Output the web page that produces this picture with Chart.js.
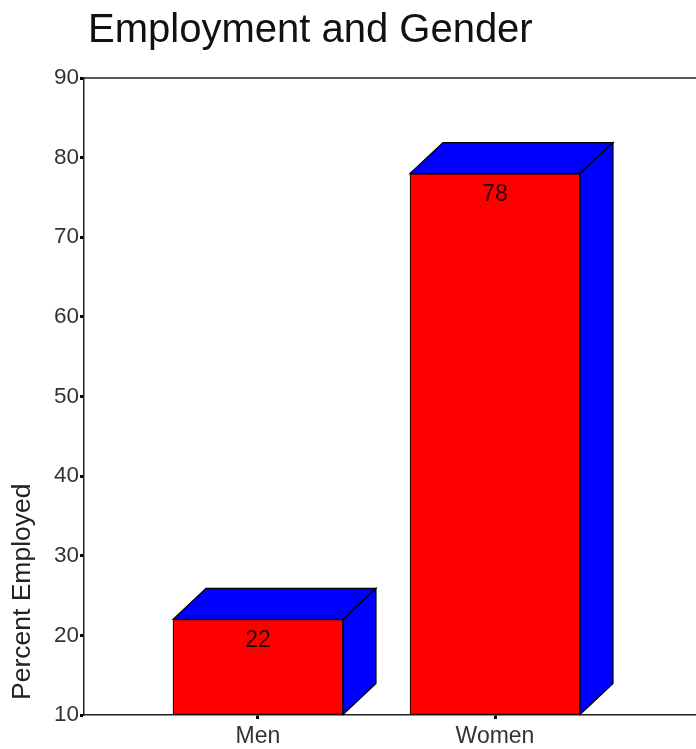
<!DOCTYPE html>
<html>
<head>
    <title>Employment and Gender</title>
    <script src="https://cdn.jsdelivr.net/npm/chart.js"></script>
    <style>
        html, body { margin: 0; padding: 0; background: #fff; overflow: hidden; }
        #chart-container { width: 696px; height: 749px; position: relative; }
    </style>
</head>
<body>
    <div id="chart-container">
        <canvas id="bar-chart"></canvas>
    </div>

    <script>
        // datos
        var titulo = 'Employment and Gender';
        var categorias = ['Men', 'Women'];
        var porcentajes = [22, 78];
        var ejeY = { min: 10, max: 90, paso: 10 };
        var tituloY = 'Percent Employed';

        var rojo = '#ff0000';
        var azul = '#0000ff';
        var prof = { dx: 33, dy: -31 };
        var fuente = '"Liberation Sans", Arial, sans-serif';

        var puntos = porcentajes.map(function (v, i) { return { x: i, y: v }; });

        // caras 3D, etiquetas y titulos
        var cubo = {
            id: 'cubo',
            beforeDatasetsDraw: function (chart) {
                var ctx = chart.ctx, a = chart.chartArea;
                ctx.save();
                ctx.strokeStyle = '#222';
                ctx.lineWidth = 1.5;
                ctx.beginPath();
                ctx.moveTo(a.left, a.top);
                ctx.lineTo(a.right, a.top);
                ctx.stroke();
                ctx.restore();
            },
            afterDatasetsDraw: function (chart) {
                var ctx = chart.ctx, a = chart.chartArea;
                var meta = chart.getDatasetMeta(0);
                ctx.save();
                meta.data.forEach(function (bar, i) {
                    var p = bar.getProps(['x', 'y', 'base', 'width'], true);
                    var l = p.x - p.width / 2, r = p.x + p.width / 2;
                    var t = p.y, b = p.base;
                    ctx.fillStyle = azul;
                    ctx.strokeStyle = '#000';
                    ctx.lineWidth = 1.2;
                    ctx.beginPath();
                    ctx.moveTo(l, t);
                    ctx.lineTo(l + prof.dx, t + prof.dy);
                    ctx.lineTo(r + prof.dx, t + prof.dy);
                    ctx.lineTo(r, t);
                    ctx.closePath();
                    ctx.fill();
                    ctx.stroke();
                    ctx.beginPath();
                    ctx.moveTo(r, t);
                    ctx.lineTo(r + prof.dx, t + prof.dy);
                    ctx.lineTo(r + prof.dx, b + prof.dy);
                    ctx.lineTo(r, b);
                    ctx.closePath();
                    ctx.fill();
                    ctx.stroke();

                    ctx.fillStyle = '#2a0000';
                    ctx.font = '23px ' + fuente;
                    ctx.textAlign = 'center';
                    ctx.textBaseline = 'middle';
                    ctx.fillText(String(porcentajes[i]), p.x, t + 21);
                });

                ctx.fillStyle = '#111';
                ctx.font = '40px ' + fuente;
                ctx.textAlign = 'left';
                ctx.textBaseline = 'alphabetic';
                ctx.fillText(titulo, 88, 42);

                ctx.translate(30, a.bottom - 15);
                ctx.rotate(-Math.PI / 2);
                ctx.fillStyle = '#222';
                ctx.font = '26.5px ' + fuente;
                ctx.fillText(tituloY, 0, 0);
                ctx.restore();
            }
        };

        var ctx = document.getElementById('bar-chart').getContext('2d');
        var chart = new Chart(ctx, {
            type: 'bar',
            data: {
                datasets: [{
                    data: puntos,
                    backgroundColor: rojo,
                    borderColor: '#200',
                    borderWidth: 1.2,
                    borderSkipped: false,
                    barThickness: 170,
                    base: ejeY.min
                }]
            },
            options: {
                responsive: true,
                maintainAspectRatio: false,
                animation: false,
                layout: { padding: { top: 78, left: 0, right: 0, bottom: 0 } },
                plugins: {
                    legend: { display: false },
                    tooltip: { enabled: false }
                },
                scales: {
                    x: {
                        type: 'linear',
                        offset: false,
                        min: -0.734,
                        max: 1.848,
                        afterBuildTicks: function (scale) {
                            scale.ticks = categorias.map(function (c, i) { return { value: i }; });
                        },
                        afterFit: function (scale) { scale.height = 34; },
                        grid: {
                            display: true,
                            offset: false,
                            drawOnChartArea: false,
                            drawTicks: true,
                            tickLength: 4,
                            tickWidth: 3,
                            tickColor: '#000'
                        },
                        border: { display: true, color: '#222', width: 1.5 },
                        ticks: {
                            padding: 4,
                            color: '#333',
                            font: { family: fuente, size: 23 },
                            callback: function (v) { return categorias[v]; }
                        }
                    },
                    y: {
                        min: ejeY.min,
                        max: ejeY.max,
                        afterFit: function (scale) { scale.width = 84; },
                        grid: {
                            display: true,
                            drawOnChartArea: false,
                            drawTicks: true,
                            tickLength: 4,
                            tickWidth: 3,
                            tickColor: '#000'
                        },
                        border: { display: true, color: '#222', width: 1.5 },
                        ticks: {
                            stepSize: ejeY.paso,
                            padding: 1,
                            color: '#333',
                            font: { family: fuente, size: 22.5 }
                        }
                    }
                }
            },
            plugins: [cubo]
        });
    </script>
</body>
</html>
